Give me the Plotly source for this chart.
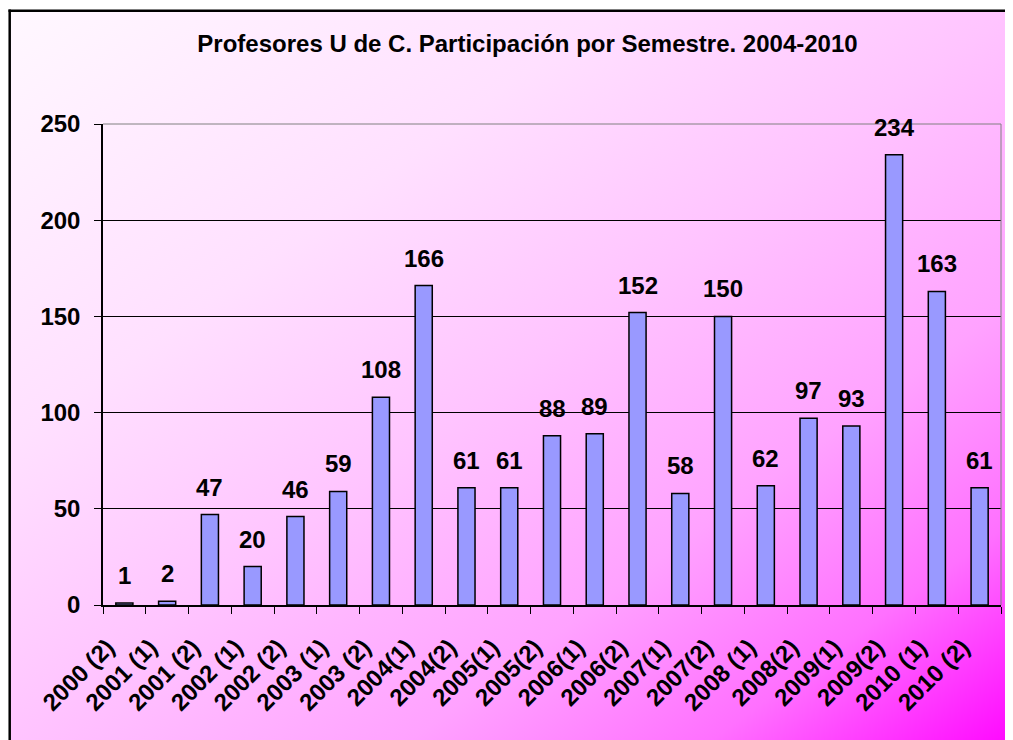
import base64
import plotly.graph_objects as go

# ---------------- data ----------------
categories = ["2000 (2)", "2001 (1)", "2001 (2)", "2002 (1)", "2002 (2)", "2003 (1)",
              "2003 (2)", "2004(1)", "2004(2)", "2005(1)", "2005(2)", "2006(1)",
              "2006(2)", "2007(1)", "2007(2)", "2008 (1)", "2008(2)", "2009(1)",
              "2009(2)", "2010 (1)", "2010 (2)"]
values = [1, 2, 47, 20, 46, 59, 108, 166, 61, 61, 88, 89, 152, 58, 150, 62, 97, 93,
          234, 163, 61]
y_ticks = [0, 50, 100, 150, 200, 250]
title_text = "Profesores U de C. Participación por Semestre. 2004-2010"

# ---------------- geometry ----------------
W, H = 1005, 732
ML, MR, MT, MB = 95, 12, 116, 135
PW, PH = W - ML - MR, H - MT - MB

def px(fx):
    return (fx - ML) / PW

def py(fy):
    return 1 - (fy - MT) / PH

FONT = "Liberation Sans, Arial, sans-serif"

# gradient background (svg)
bw, bh = W - 1, H - 2
svg = f'''<svg xmlns="http://www.w3.org/2000/svg" width="{bw}" height="{bh}" viewBox="0 0 {bw} {bh}" preserveAspectRatio="none">
<defs><linearGradient id="g" x1="0" y1="0" x2="1" y2="1">
<stop offset="0" stop-color="#FFF8FF"/>
<stop offset="0.3" stop-color="#FFE0FF"/>
<stop offset="0.5" stop-color="#FFC4FF"/>
<stop offset="0.7" stop-color="#FFA2FF"/>
<stop offset="0.85" stop-color="#FF70FF"/>
<stop offset="1" stop-color="#FF08FF"/>
</linearGradient></defs>
<rect x="0" y="0" width="{bw}" height="{bh}" fill="url(#g)"/>
</svg>'''
svg_uri = "data:image/svg+xml;base64," + base64.b64encode(svg.encode()).decode()

fig = go.Figure()
fig.add_trace(go.Bar(
    x=categories, y=values,
    marker=dict(color="#9999FF", line=dict(color="black", width=1.5)),
    hoverinfo="x+y",
))

for c, v in zip(categories, values):
    fig.add_annotation(x=c, y=v, text=str(v), showarrow=False,
                       yanchor="bottom", yshift=12,
                       font=dict(family=FONT, size=24, color="black", weight="bold"))

fig.add_layout_image(dict(
    source=svg_uri, xref="paper", yref="paper",
    x=px(1), y=py(2), sizex=bw / PW, sizey=bh / PH,
    xanchor="left", yanchor="top", sizing="stretch", layer="below",
))

# chart border (left / top)
fig.add_shape(type="line", xref="paper", yref="paper", x0=px(1.7), x1=px(1.7),
              y0=py(1.5), y1=py(H + 5), line=dict(color="black", width=2.5), layer="above")
fig.add_shape(type="line", xref="paper", yref="paper", x0=px(0.5), x1=px(W + 5),
              y0=py(2.7), y1=py(2.7), line=dict(color="black", width=2.5), layer="above")
# gray plot border top/right
fig.add_shape(type="line", xref="paper", yref="paper", x0=0, x1=1, y0=1, y1=1,
              line=dict(color="#808080", width=1), layer="above")
fig.add_shape(type="line", xref="paper", yref="paper", x0=1, x1=1, y0=0, y1=1,
              line=dict(color="#808080", width=1), layer="above")

fig.update_layout(
    width=W, height=H,
    margin=dict(l=ML, r=MR, t=MT, b=MB, pad=0, autoexpand=False),
    paper_bgcolor="white",
    plot_bgcolor="#C0C0C0",
    bargap=0.6,
    showlegend=False,
    title=dict(text=title_text, xref="container", yref="container",
               x=519.5 / W, y=1 - 35.5 / H, xanchor="center", yanchor="middle",
               font=dict(family=FONT, size=24, color="black", weight="bold")),
    xaxis=dict(type="category", tickson="boundaries", ticks="outside", ticklen=7,
               tickcolor="black", tickwidth=1, tickangle=-45, automargin=False,
               showline=True, linecolor="black", linewidth=1.5,
               showgrid=False, ticklabelstandoff=17, ticklabelshift=-17,
               tickfont=dict(family=FONT, size=24, color="black", weight="bold")),
    yaxis=dict(range=[0, 250], tickvals=y_ticks, ticks="outside", ticklen=7,
               tickcolor="black", tickwidth=1, automargin=False,
               showline=True, linecolor="black", linewidth=1.5,
               showgrid=True, gridcolor="black", gridwidth=1, zeroline=False,
               ticklabelstandoff=9,
               tickfont=dict(family=FONT, size=24, color="black", weight="bold")),
)

fig.write_html("out.html")
